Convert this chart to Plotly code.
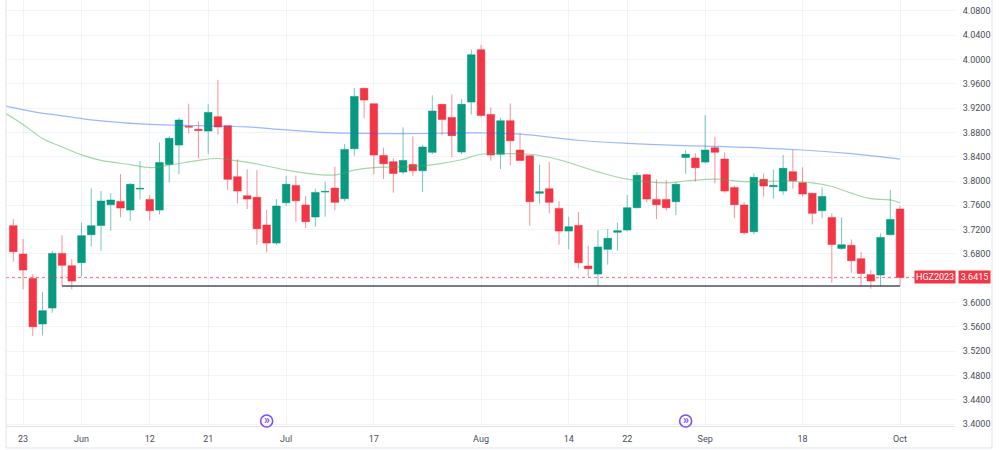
import numpy as np
import pandas as pd
import plotly.graph_objects as go

# ---------------- data ----------------
holidays = ["2023-05-29", "2023-06-19", "2023-07-04", "2023-09-04"]
dates = pd.bdate_range("2023-05-22", "2023-10-02", freq="C",
                       holidays=holidays).strftime("%Y-%m-%d").tolist()

open_ = [3.7265, 3.6799, 3.6399, 3.5648, 3.5912, 3.6810, 3.6607, 3.6657, 3.7117, 3.7270,
         3.7610, 3.7665, 3.7523, 3.7868, 3.7698, 3.7523, 3.8273, 3.8591, 3.8898, 3.8849,
         3.8821, 3.9057, 3.8909, 3.8070, 3.7758, 3.7731, 3.7276, 3.6980, 3.7643, 3.7928,
         3.7605, 3.7408, 3.7818, 3.7884, 3.7709, 3.8531, 3.9523, 3.9271, 3.8421, 3.8317,
         3.8147, 3.8273, 3.8169, 3.8471, 3.9260, 3.9046, 3.8476, 3.9298, 4.0158, 3.9095,
         3.8438, 3.8991, 3.8509, 3.8416, 3.7797, 3.7873, 3.7550, 3.7177, 3.7270, 3.6602,
         3.6470, 3.6876, 3.7156, 3.7194, 3.7561, 3.8104, 3.7698, 3.7698, 3.7660, 3.8388,
         3.8378, 3.8312, 3.8547, 3.8361, 3.7895, 3.7605, 3.7166, 3.8027, 3.7906, 3.7835,
         3.8153, 3.7972, 3.7797, 3.7512, 3.7402, 3.6892, 3.6942, 3.6723, 3.6460, 3.6454,
         3.7117, 3.7539]
high = [3.7375, 3.7046, 3.6470, 3.6175, 3.6849, 3.7106, 3.6717, 3.7314, 3.7879, 3.7835,
        3.7797, 3.8114, 3.7967, 3.8328, 3.7769, 3.8635, 3.8739, 3.9041, 3.9271, 3.8980,
        3.9260, 3.9665, 3.8909, 3.8356, 3.8191, 3.8180, 3.7523, 3.7703, 3.8082, 3.8087,
        3.7753, 3.7873, 3.7988, 3.8235, 3.8608, 3.9528, 3.9539, 3.9271, 3.8547, 3.8372,
        3.8882, 3.8734, 3.8591, 3.9408, 3.9260, 3.9424, 3.9347, 4.0164, 4.0235, 3.9210,
        3.9041, 3.9276, 3.8789, 3.8416, 3.8268, 3.8312, 3.7670, 3.7413, 3.7490, 3.6936,
        3.7194, 3.7210, 3.7314, 3.7769, 3.8147, 3.8114, 3.8027, 3.8016, 3.7977, 3.8509,
        3.8454, 3.9084, 3.8728, 3.8471, 3.7923, 3.7654, 3.8125, 3.8125, 3.8191, 3.8427,
        3.8509, 3.8224, 3.7808, 3.7895, 3.7468, 3.7402, 3.7040, 3.6832, 3.6536, 3.7139,
        3.7851, 3.7594]
low = [3.6673, 3.6218, 3.5451, 3.5462, 3.5835, 3.6273, 3.6218, 3.6427, 3.6920, 3.6854,
       3.7183, 3.7402, 3.7342, 3.7698, 3.7347, 3.7451, 3.7977, 3.8114, 3.8783, 3.8372,
       3.8443, 3.8761, 3.7851, 3.7632, 3.7539, 3.6958, 3.6827, 3.6947, 3.7594, 3.7331,
       3.7227, 3.7249, 3.7413, 3.7517, 3.7665, 3.8416, 3.9030, 3.8114, 3.8032, 3.7808,
       3.8114, 3.8087, 3.7818, 3.8443, 3.8756, 3.8388, 3.8443, 3.9095, 3.9046, 3.8334,
       3.8197, 3.8257, 3.8328, 3.7265, 3.7632, 3.7468, 3.6953, 3.6876, 3.6564, 3.6427,
       3.6262, 3.6624, 3.6854, 3.7177, 3.7550, 3.7649, 3.7375, 3.7512, 3.7440, 3.8120,
       3.7988, 3.8290, 3.7961, 3.7808, 3.7386, 3.7117, 3.7122, 3.7742, 3.7709, 3.7775,
       3.7873, 3.7742, 3.7287, 3.7386, 3.6328, 3.6865, 3.6492, 3.6273, 3.6230, 3.6262,
       3.7106, 3.6273]
close = [3.6838, 3.6536, 3.5605, 3.5868, 3.6810, 3.6613, 3.6355, 3.7101, 3.7265, 3.7670,
         3.7687, 3.7555, 3.7945, 3.7879, 3.7512, 3.8306, 3.8701, 3.9002, 3.8887, 3.8832,
         3.9128, 3.8887, 3.8027, 3.7835, 3.7703, 3.7216, 3.6980, 3.7588, 3.7945, 3.7676,
         3.7331, 3.7813, 3.7829, 3.7649, 3.8520, 3.9391, 3.9331, 3.8427, 3.8284, 3.8125,
         3.8339, 3.8169, 3.8558, 3.9150, 3.9013, 3.8745, 3.9260, 4.0076, 3.9079, 3.8427,
         3.8991, 3.8662, 3.8339, 3.7660, 3.7824, 3.7649, 3.7177, 3.7249, 3.6657, 3.6558,
         3.6914, 3.7057, 3.7183, 3.7561, 3.8093, 3.7703, 3.7610, 3.7561, 3.7945, 3.8438,
         3.8219, 3.8509, 3.8471, 3.7835, 3.7610, 3.7150, 3.8060, 3.7917, 3.7928, 3.8208,
         3.8005, 3.7786, 3.7468, 3.7747, 3.6958, 3.6953, 3.6690, 3.6481, 3.6355, 3.7073,
         3.7369, 3.6415]

ma_fast_dates = ["2023-05-19", "2023-05-23", "2023-05-25", "2023-05-30", "2023-06-01",
                 "2023-06-05", "2023-06-08", "2023-06-12", "2023-06-14", "2023-06-20",
                 "2023-06-22", "2023-06-26", "2023-06-28", "2023-07-03", "2023-07-06",
                 "2023-07-11", "2023-07-13", "2023-07-17", "2023-07-19", "2023-07-24",
                 "2023-07-26", "2023-07-28", "2023-08-01", "2023-08-04", "2023-08-08",
                 "2023-08-11", "2023-08-17", "2023-08-22", "2023-08-28", "2023-08-30",
                 "2023-09-05", "2023-09-08", "2023-09-14", "2023-09-19", "2023-09-21",
                 "2023-09-25", "2023-09-27", "2023-09-29", "2023-10-02"]
ma_fast_vals = [3.913, 3.893, 3.870, 3.856, 3.843, 3.834, 3.827, 3.822, 3.826, 3.834,
                3.837, 3.833, 3.828, 3.818, 3.813, 3.810, 3.818, 3.822, 3.823, 3.825,
                3.829, 3.835, 3.844, 3.845, 3.844, 3.835, 3.815, 3.803, 3.797, 3.800,
                3.803, 3.799, 3.800, 3.797, 3.791, 3.780, 3.771, 3.769, 3.764]
ma_slow_dates = ["2023-05-19", "2023-05-24", "2023-05-31", "2023-06-05", "2023-06-12",
                 "2023-06-20", "2023-06-27", "2023-07-03", "2023-07-11", "2023-07-20",
                 "2023-08-01", "2023-08-07", "2023-08-15", "2023-08-22", "2023-08-29",
                 "2023-09-06", "2023-09-18", "2023-09-25", "2023-10-02"]
ma_slow_vals = [3.924, 3.914, 3.905, 3.899, 3.893, 3.891, 3.889, 3.884, 3.879, 3.878,
                3.879, 3.877, 3.867, 3.862, 3.8586, 3.8564, 3.851, 3.845, 3.836]

tick_dates = ["2023-05-23", "2023-06-01", "2023-06-12", "2023-06-21", "2023-07-03",
              "2023-07-17", "2023-08-01", "2023-08-14", "2023-08-22", "2023-09-01",
              "2023-09-18", "2023-10-02"]
tick_text = ["23", "Jun", "12", "21", "Jul", "17", "Aug", "14", "22", "Sep", "18", "Oct"]
price_ticks = [3.40, 3.44, 3.48, 3.52, 3.56, 3.60, 3.64, 3.68, 3.72, 3.76, 3.80,
               3.84, 3.88, 3.92, 3.96, 4.00, 4.04, 4.08]

support_level = 3.6273
support_start, support_end = "2023-05-30", "2023-10-02"
symbol = "HGZ2023"
last_price = close[-1]
roll_dates = ["2023-06-29", "2023-08-30"]

# ---------------- helpers ----------------
def pos(d):
    return np.busday_count("2023-05-22", np.array(d, dtype="datetime64[D]"),
                           holidays=holidays)

UP, DOWN = "#089981", "#f23645"
TXT = "#4a4d57"
GRID = "#f0f3fa"
BORDER = "#e0e3eb"
ROLL = "#7c4dff"

# the last-price badge covers the tick label that sits behind it
tick_labels = ["" if abs(v - last_price) < 0.008 else f"{v:.4f}" for v in price_ticks]

fig = go.Figure()
fig.add_trace(go.Scatter(x=pos(ma_slow_dates), y=ma_slow_vals, mode="lines",
                         line=dict(color="rgba(41,98,255,0.45)", width=1.2, shape="spline"),
                         hoverinfo="skip"))
fig.add_trace(go.Scatter(x=pos(ma_fast_dates), y=ma_fast_vals, mode="lines",
                         line=dict(color="rgba(76,175,80,0.5)", width=1.2, shape="spline"),
                         hoverinfo="skip"))
fig.add_trace(go.Candlestick(
    x=pos(dates), open=open_, high=high, low=low, close=close,
    increasing=dict(line=dict(color="rgba(8,153,129,0.55)", width=1), fillcolor=UP),
    decreasing=dict(line=dict(color="rgba(242,54,69,0.55)", width=1), fillcolor=DOWN),
    whiskerwidth=0))

shapes = []
# support line
shapes.append(dict(type="line", xref="x", yref="y",
                   x0=int(pos(support_start)), x1=int(pos(support_end)),
                   y0=support_level, y1=support_level,
                   line=dict(color="#4b4f5a", width=1.5)))
# last price line
shapes.append(dict(type="line", xref="paper", yref="y", x0=0, x1=1,
                   y0=last_price, y1=last_price,
                   line=dict(color="rgba(242,54,69,0.7)", width=1, dash="dot")))
# frame
shapes += [
    dict(type="line", xref="paper", yref="paper", x0=0, x1=0, y0=-0.0516, y1=1,
         line=dict(color=BORDER, width=1)),
    dict(type="line", xref="paper", yref="paper", x0=1.039, x1=1.039, y0=-0.0516, y1=1,
         line=dict(color=BORDER, width=1)),
    dict(type="line", xref="paper", yref="paper", x0=0, x1=1.039, y0=-0.0516, y1=-0.0516,
         line=dict(color=BORDER, width=1)),
]
annotations = []
for d in roll_dates:
    p = int(pos(d))
    shapes.append(dict(type="circle", xref="x", yref="paper", xsizemode="pixel",
                       ysizemode="pixel", xanchor=p, yanchor=0.0117,
                       x0=-6, x1=6, y0=-6, y1=6,
                       line=dict(color=ROLL, width=1.6)))
    annotations.append(dict(x=p, y=0.0117, xref="x", yref="paper", text="<b>»</b>",
                            showarrow=False, font=dict(size=12, color=ROLL),
                            xanchor="center", yanchor="middle", yshift=1))

annotations.append(dict(x=1, y=last_price, xref="paper", yref="y", text=symbol,
                        showarrow=False, xanchor="right", yanchor="middle", xshift=1,
                        bgcolor=DOWN, borderpad=1,
                        font=dict(size=9, color="white", family="Roboto")))
annotations.append(dict(x=1, y=last_price, xref="paper", yref="y",
                        text=f"{last_price:.4f}", width=29,
                        showarrow=False, xanchor="left", yanchor="middle", xshift=3,
                        bgcolor=DOWN, borderpad=1,
                        font=dict(size=9, color="white", family="Roboto")))

fig.update_layout(
    width=1000, height=450,
    margin=dict(l=6, r=45, t=0, b=24),
    paper_bgcolor="white", plot_bgcolor="white",
    showlegend=False,
    font=dict(family="Roboto", size=9, color=TXT),
    boxgap=0.22, boxgroupgap=0,
    shapes=shapes, annotations=annotations,
    xaxis=dict(range=[-0.75, 96.64], tickmode="array",
               tickvals=pos(tick_dates), ticktext=tick_text,
               showgrid=True, gridcolor=GRID, gridwidth=1, zeroline=False,
               ticks="outside", ticklen=4, tickcolor="rgba(0,0,0,0)",
               showline=True, linecolor=BORDER, linewidth=1,
               rangeslider=dict(visible=False), fixedrange=True,
               tickfont=dict(size=9, color=TXT)),
    yaxis=dict(side="right", range=[3.3972, 4.0976], tickmode="array",
               tickvals=price_ticks, ticktext=tick_labels,
               showgrid=True, gridcolor=GRID, gridwidth=1, zeroline=False,
               ticks="outside", ticklen=5, tickcolor="rgba(0,0,0,0)",
               showline=False, fixedrange=True,
               tickfont=dict(size=9, color=TXT)),
)

fig.write_html("out.html")
